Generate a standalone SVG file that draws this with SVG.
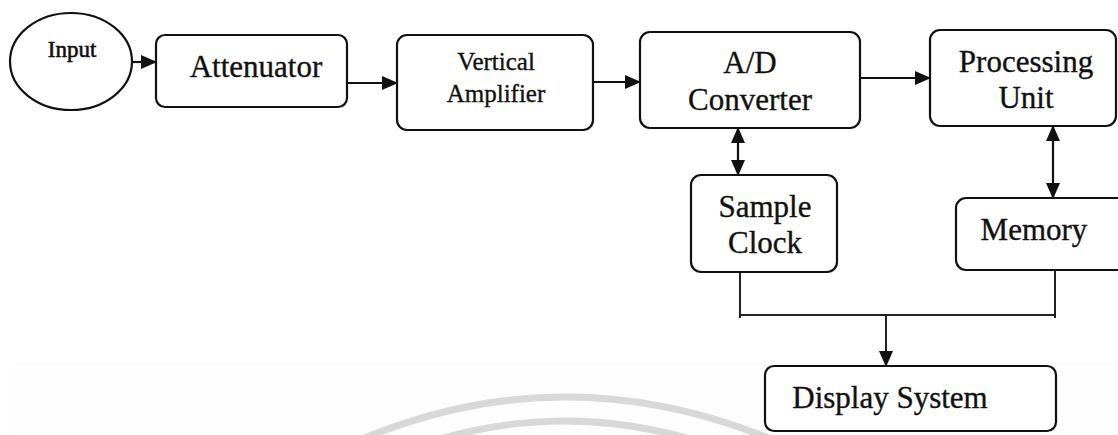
<svg xmlns="http://www.w3.org/2000/svg" width="1118" height="435" viewBox="0 0 1118 435">
  <style>
    .box { fill: #ffffff; stroke: #111111; stroke-width: 2.2; }
    .lbl { font-family: "Liberation Serif", "Times New Roman", serif; fill: #111111; stroke: #111111; stroke-width: 0.35; text-anchor: middle; }
    .big { font-size: 31px; }
    .mid { font-size: 25px; }
    .sm { font-size: 23px; stroke-width: 0.6; }
    .wire { fill: none; stroke: #111111; stroke-width: 2.2; }
    .bus { fill: none; stroke: #222222; stroke-width: 2; }
    .mark { fill: none; stroke: #d8d8d8; stroke-width: 7; }
  </style>
  <defs>
    <marker id="head" markerWidth="16" markerHeight="14" refX="15" refY="7" orient="auto" markerUnits="userSpaceOnUse">
      <path d="M0,0 L16,7 L0,14 Z" fill="#111111"/>
    </marker>
    <marker id="tail" markerWidth="16" markerHeight="14" refX="1" refY="7" orient="auto" markerUnits="userSpaceOnUse">
      <path d="M16,0 L0,7 L16,14 Z" fill="#111111"/>
    </marker>
  </defs>

  <rect x="0" y="0" width="1118" height="435" fill="#ffffff"/>
  <rect x="15" y="362" width="1103" height="73" fill="#fdfdfd"/>

  <!-- faint background arcs -->
  <g id="backdrop">
    <path class="mark" d="M355,442 Q565,352 778,442"/>
    <path class="mark" d="M430,442 Q565,400 700,442"/>
  </g>

  <!-- connectors -->
  <g id="connectors">
    <line class="wire" x1="132" y1="62" x2="156" y2="62" marker-end="url(#head)"/>
    <line class="wire" x1="347" y1="83" x2="397" y2="83" marker-end="url(#head)"/>
    <line class="wire" x1="593" y1="82" x2="640" y2="82" marker-end="url(#head)"/>
    <line class="wire" x1="860" y1="78" x2="930" y2="78" marker-end="url(#head)"/>
    <line class="wire" x1="738" y1="128" x2="738" y2="175" stroke-width="3" marker-start="url(#tail)" marker-end="url(#head)"/>
    <line class="wire" x1="1053" y1="126" x2="1053" y2="198" stroke-width="3" marker-start="url(#tail)" marker-end="url(#head)"/>
    <polyline class="bus" points="740,272 740,318"/>
    <polyline class="bus" points="1055,270 1055,318"/>
    <line class="bus" x1="740" y1="315" x2="1055" y2="315"/>
    <line class="bus" x1="886" y1="316" x2="886" y2="366" marker-end="url(#head)"/>
  </g>

  <g id="input">
    <ellipse cx="71" cy="61.5" rx="61" ry="48.5" fill="#ffffff" stroke="#111111" stroke-width="2.2"/>
    <text class="lbl sm" x="72" y="57">Input</text>
  </g>

  <g id="attenuator">
    <rect class="box" x="156" y="35" width="191" height="72" rx="9"/>
    <text class="lbl big" x="256" y="77">Attenuator</text>
  </g>

  <g id="vertical-amplifier">
    <rect class="box" x="397" y="35" width="196" height="95" rx="10"/>
    <text class="lbl mid" x="496" y="70">Vertical</text>
    <text class="lbl mid" x="496" y="102">Amplifier</text>
  </g>

  <g id="ad-converter">
    <rect class="box" x="640" y="32" width="220" height="96" rx="10"/>
    <text class="lbl big" x="750" y="73">A/D</text>
    <text class="lbl big" x="750" y="110">Converter</text>
  </g>

  <g id="processing-unit">
    <rect class="box" x="930" y="30" width="186" height="96" rx="10"/>
    <text class="lbl big" x="1026" y="72">Processing</text>
    <text class="lbl big" x="1026" y="108">Unit</text>
  </g>

  <g id="sample-clock">
    <rect class="box" x="691" y="175" width="146" height="97" rx="10"/>
    <text class="lbl big" x="765" y="217">Sample</text>
    <text class="lbl big" x="765" y="253">Clock</text>
  </g>

  <g id="memory">
    <rect class="box" x="956" y="198" width="175" height="72" rx="10"/>
    <text class="lbl big" x="1034" y="240">Memory</text>
  </g>

  <g id="display-system">
    <rect class="box" x="765" y="366" width="291" height="65" rx="9"/>
    <text class="lbl big" x="890" y="408" fill="#2a2a2a" stroke="#2a2a2a">Display System</text>
  </g>
</svg>
